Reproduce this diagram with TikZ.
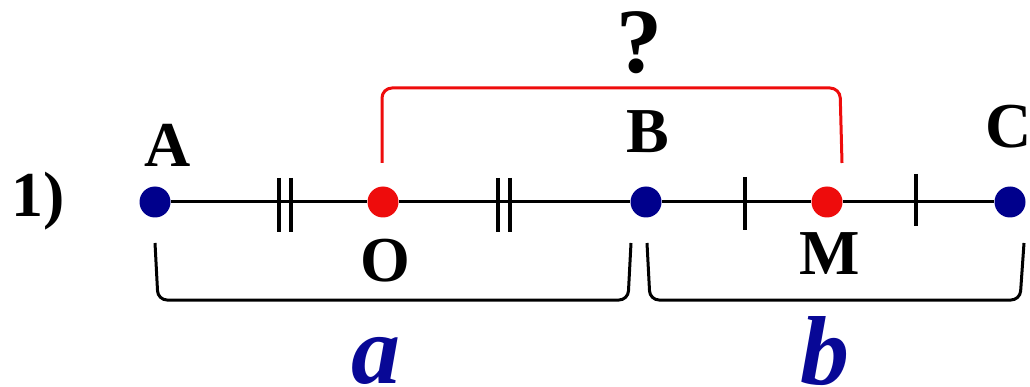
\documentclass[tikz,border=0pt]{standalone}
\usepackage{fontspec}
\setmainfont{Liberation Serif}
\definecolor{dotblue}{RGB}{0,0,140}
\definecolor{dotred}{RGB}{238,12,12}
\definecolor{lblblue}{RGB}{8,8,150}
\begin{document}
\begin{tikzpicture}[x=1pt,y=-1pt,
  pnt/.style={circle,fill=#1,inner sep=0pt,minimum size=31pt},
  lbl/.style={font=\fontsize{64}{64}\selectfont\bfseries,inner sep=0pt,anchor=base},
  big/.style={font=\fontsize{98}{98}\selectfont\bfseries\itshape,text=lblblue,inner sep=0pt,anchor=base},
  seg/.style={line width=3pt},
  tickmark/.style={line width=3.5pt},
  brace/.style={line width=3pt,rounded corners=9pt},
  redbrace/.style={line width=3pt,rounded corners=10pt,draw=dotred}]
\useasboundingbox (0,0) rectangle (1030,387);
% points
\node[pnt=dotblue] (A) at (155,202) {};
\node[pnt=dotred]  (O) at (383,202) {};
\node[pnt=dotblue] (B) at (646,202) {};
\node[pnt=dotred]  (M) at (827,202) {};
\node[pnt=dotblue] (C) at (1010,202) {};
% line
\draw[seg] (A) -- (O);
\draw[seg] (O) -- (B);
\draw[seg] (B) -- (M);
\draw[seg] (M) -- (C);
% ticks
\draw[tickmark] (279,178) -- (279,232);
\draw[tickmark] (291,178) -- (291,232);
\draw[tickmark] (498,178) -- (498,232);
\draw[tickmark] (510,178) -- (510,232);
\draw[tickmark] (745,177) -- (745,230);
\draw[tickmark] (916,174) -- (916,226);
% labels
\node[lbl] (nlab) at (38,217) {1)};
\node[lbl] (Alab) at (168,167) {A};
\node[lbl] (Blab) at (648,153) {B};
\node[lbl] (Clab) at (1009,148) {C};
\node[lbl] (Olab) at (385,281) {O};
\node[lbl] (Mlab) at (830,274) {M};
% red bracket
\coordinate (o1) at (382,163);
\coordinate (m1) at (842,163);
\draw[redbrace] (o1) -- (382,88) -- (840,88) -- (m1);
\node[font=\fontsize{92}{92}\selectfont\bfseries,inner sep=0pt,anchor=base] (q) at (639,73) {?};
% lower braces
\coordinate (a1) at (155,243);
\coordinate (a2) at (631,243);
\coordinate (b1) at (647,243);
\coordinate (b2) at (1024,243);
\draw[brace] (a1) -- (158,300) -- (628,300) -- (a2);
\draw[brace] (b1) -- (650,300) -- (1020,300) -- (b2);
\node[big] (alab) at (376,383) {a};
\node[big] (blab) at (825,384) {b};
\end{tikzpicture}
\end{document}
